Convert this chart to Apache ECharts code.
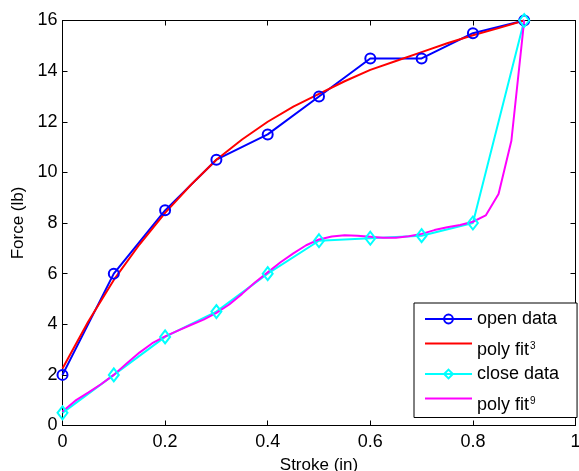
<!DOCTYPE html>
<html>
<head>
<meta charset="utf-8">
<script src="https://cdn.jsdelivr.net/npm/echarts@6/dist/echarts.min.js"></script>
<style>html,body{margin:0;padding:0;background:#fff}#c{width:579px;height:471px}</style>
</head>
<body>
<div id="c"></div>
<script>
// Data
var openX = [0, 0.1, 0.2, 0.3, 0.4, 0.5, 0.6, 0.7, 0.8, 0.9];
var openY = [2, 6, 8.5, 10.5, 11.5, 13, 14.5, 14.5, 15.5, 16];
var closeX = [0, 0.1, 0.2, 0.3, 0.4, 0.5, 0.6, 0.7, 0.8, 0.9];
var closeY = [0.5, 2, 3.5, 4.5, 6, 7.3, 7.4, 7.5, 8, 16];
var fit3X = [0, 0.05, 0.1, 0.15, 0.2, 0.25, 0.3, 0.35, 0.4, 0.45, 0.5, 0.55, 0.6, 0.65, 0.7, 0.75, 0.8, 0.85, 0.9];
var fit3Y = [2.25, 4.1, 5.75, 7.15, 8.4, 9.5, 10.5, 11.3, 12.0, 12.6, 13.1, 13.6, 14.05, 14.4, 14.75, 15.1, 15.42, 15.7, 16.0];
var fit9X = [0, 0.025, 0.05, 0.075, 0.1, 0.125, 0.15, 0.175, 0.2, 0.225, 0.25, 0.275, 0.3, 0.325, 0.35, 0.375, 0.4, 0.425, 0.45, 0.475, 0.5, 0.525, 0.55, 0.575, 0.6, 0.625, 0.65, 0.675, 0.7, 0.725, 0.75, 0.775, 0.8, 0.825, 0.85, 0.875, 0.9];
var fit9Y = [0.55, 0.98, 1.3, 1.63, 2.0, 2.45, 2.88, 3.25, 3.52, 3.75, 3.97, 4.18, 4.45, 4.78, 5.2, 5.65, 6.05, 6.45, 6.8, 7.12, 7.35, 7.47, 7.52, 7.5, 7.46, 7.42, 7.42, 7.48, 7.57, 7.72, 7.83, 7.92, 8.05, 8.3, 9.15, 11.25, 16];
var xTicks = [0, 0.2, 0.4, 0.6, 0.8, 1];
var yTicks = [0, 2, 4, 6, 8, 10, 12, 14, 16];
var names = ['open data', 'poly fit3', 'close data', 'poly fit9'];

function pairs(xs, ys) { return xs.map(function (x, i) { return [x, ys[i]]; }); }

var FONT = 'Liberation Sans, Arial, sans-serif';
var chart = echarts.init(document.getElementById('c'), null, { renderer: 'canvas' });

function axisCommon(extra) {
  var base = {
    type: 'value',
    axisLine: { show: true, onZero: false, lineStyle: { color: '#000', width: 1 } },
    axisTick: { show: true, inside: true, length: 5, lineStyle: { color: '#000', width: 1 } },
    splitLine: { show: false },
    minorTick: { show: false }
  };
  for (var k in extra) base[k] = extra[k];
  return base;
}

var option = {
  animation: false,
  backgroundColor: '#fff',
  grid: { left: 62.5, right: 3.5, top: 20.5, bottom: 45.5, containLabel: false, outerBoundsMode: 'none' },
  xAxis: [
    axisCommon({
      position: 'bottom', min: xTicks[0], max: xTicks[xTicks.length - 1], interval: 0.2,
      name: 'Stroke (in)', nameLocation: 'middle', nameGap: 26,
      nameTextStyle: { fontFamily: FONT, fontSize: 17, color: '#000' },
      axisLabel: { show: true, margin: 8, fontFamily: FONT, fontSize: 18, color: '#000',
        formatter: function (v) { return String(+v.toFixed(1)); } }
    }),
    axisCommon({
      position: 'top', min: xTicks[0], max: xTicks[xTicks.length - 1], interval: 0.2,
      axisLabel: { show: false }
    })
  ],
  yAxis: [
    axisCommon({
      position: 'left', min: yTicks[0], max: yTicks[yTicks.length - 1], interval: 2,
      name: 'Force (lb)', nameLocation: 'middle', nameGap: 36, nameRotate: 90,
      nameTextStyle: { fontFamily: FONT, fontSize: 17, color: '#000' },
      axisLabel: { show: true, margin: 5, fontFamily: FONT, fontSize: 18, color: '#000' }
    }),
    axisCommon({
      position: 'right', min: yTicks[0], max: yTicks[yTicks.length - 1], interval: 2,
      axisLabel: { show: false }
    })
  ],
  legend: {
    orient: 'vertical',
    left: 414, top: 303,
    backgroundColor: '#fff',
    borderColor: '#000', borderWidth: 1, borderRadius: 0,
    padding: [6, 18, 3, 10],
    itemWidth: 47, itemHeight: 11, itemGap: 4.5,
    data: [
      { name: names[0] },
      { name: names[1], itemStyle: { opacity: 0 } },
      { name: names[2] },
      { name: names[3], itemStyle: { opacity: 0 } }
    ],
    textStyle: {
      fontFamily: FONT, fontSize: 18, color: '#000', lineHeight: 20,
      rich: {
        n: { fontFamily: FONT, fontSize: 18, color: '#000', lineHeight: 20, height: 6, padding: [7, 0, 7, 0] },
        b: { fontFamily: FONT, fontSize: 18, color: '#000', lineHeight: 20, height: 6, padding: [14, 0, 0, 0] },
        s: { fontFamily: FONT, fontSize: 10, color: '#000', lineHeight: 20, height: 6, padding: [10, 0, 4, 1] }
      }
    },
    formatter: function (n) {
      if (n === 'poly fit3') return '{b|poly fit}{s|3}';
      if (n === 'poly fit9') return '{b|poly fit}{s|9}';
      return '{n|' + n + '}';
    }
  },
  series: [
    {
      name: names[0], type: 'line', data: pairs(openX, openY),
      symbol: 'circle', symbolSize: 10, showSymbol: true,
      lineStyle: { color: '#0000ff', width: 2 },
      itemStyle: { color: 'rgba(0,0,0,0)', borderColor: '#0000ff', borderWidth: 2 },
      emphasis: { disabled: true }
    },
    {
      name: names[1], type: 'line', data: pairs(fit3X, fit3Y),
      symbol: 'none', lineStyle: { color: '#ff0000', width: 2 },
      itemStyle: { color: '#ff0000' }, emphasis: { disabled: true }
    },
    {
      name: names[2], type: 'line', data: pairs(closeX, closeY),
      symbol: 'diamond', symbolSize: [10, 13], showSymbol: true,
      lineStyle: { color: '#00ffff', width: 2 },
      itemStyle: { color: 'rgba(0,0,0,0)', borderColor: '#00ffff', borderWidth: 2 },
      emphasis: { disabled: true }
    },
    {
      name: names[3], type: 'line', data: pairs(fit9X, fit9Y),
      symbol: 'none', lineStyle: { color: '#ff00ff', width: 2 },
      itemStyle: { color: '#ff00ff' }, emphasis: { disabled: true }
    }
  ]
};
chart.setOption(option);
</script>
</body>
</html>
